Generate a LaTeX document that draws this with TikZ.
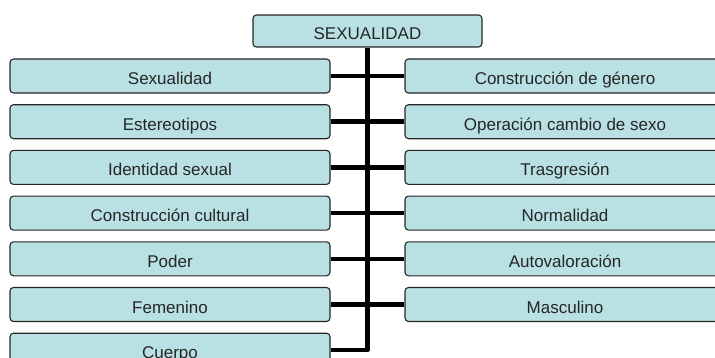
\documentclass[tikz,border=0pt]{standalone}
\usepackage{fontspec}
\setmainfont{Liberation Sans}
\definecolor{cajafondo}{RGB}{185,224,227}
\begin{document}
\begin{tikzpicture}[x=1pt, y=-1pt, line join=round,
    caja/.style={draw=black!85, line width=1.1pt, fill=cajafondo, rounded corners=3.5pt,
      minimum width=320pt, minimum height=34pt, inner sep=0pt,
      text height=20.5pt, text depth=3.5pt,
      font=\fontsize{17}{20}\selectfont, text=black!85},
    rama/.style={line width=4.5pt}]
    \useasboundingbox (0,0) rectangle (715,357);
    \clip (0,0) rectangle (715,357);
    \node[caja, minimum width=229pt, minimum height=32pt] (raiz) at (367.5,31) {SEXUALIDAD};
    % columna izquierda
    \foreach \t [count=\i from 0] in {Sexualidad, Estereotipos, Identidad sexual,
        Construcción cultural, Poder, Femenino, Cuerpo}
        \node[caja] (izq\i) at (170,76+45.7*\i) {\t};
    % columna derecha
    \foreach \t [count=\i from 0] in {Construcción de género, Operación cambio de sexo,
        Trasgresión, Normalidad, Autovaloración, Masculino}
        \node[caja] (der\i) at (565,76+45.7*\i) {\t};
    % tronco y ramas
    \draw[rama] (raiz.south) -- (raiz.south |- izq6.east) -- (izq6.east);
    \foreach \i in {0,...,5}
        \draw[rama] (izq\i.east) -- (der\i.west);
\end{tikzpicture}
\end{document}
